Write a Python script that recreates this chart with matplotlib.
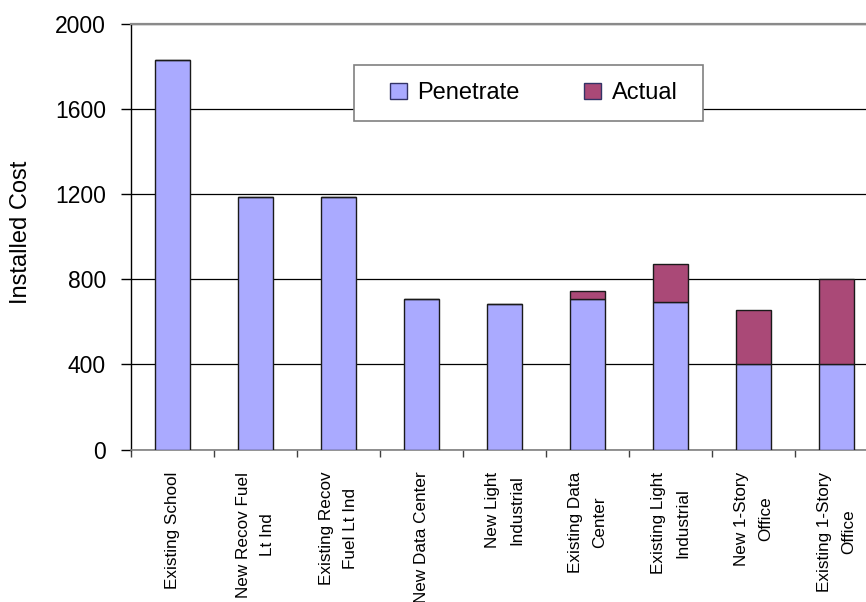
import matplotlib
matplotlib.use("Agg")
import matplotlib.pyplot as plt
from matplotlib.patches import Rectangle
import numpy as np

categories = [
    "Existing School",
    "New Recov Fuel\nLt Ind",
    "Existing Recov\nFuel Lt Ind",
    "New Data Center",
    "New Light\nIndustrial",
    "Existing Data\nCenter",
    "Existing Light\nIndustrial",
    "New 1-Story\nOffice",
    "Existing 1-Story\nOffice",
]
penetrate = [1830, 1190, 1190, 710, 685, 710, 693, 400, 400]
actual = [0, 0, 0, 0, 0, 35, 180, 257, 400]
y_ticks = [0, 400, 800, 1200, 1600, 2000]

plt.rcParams["font.family"] = ["Liberation Sans", "DejaVu Sans"]

fig = plt.figure(figsize=(8.66, 6.02), dpi=100)
# the plot area runs slightly past the right edge of the canvas
ax = fig.add_axes([131 / 866, 0.2533, 747 / 866, 0.7063])

x = np.arange(len(categories))
w = 0.42
pen_color = "#AAAAFF"
act_color = "#AA4977"
ax.bar(x, penetrate, w, color=pen_color, edgecolor="#1a1a1a", linewidth=1.0,
       label="Penetrate", zorder=3)
ax.bar(x, actual, w, bottom=penetrate, color=act_color, edgecolor="#1a1a1a",
       linewidth=1.0, label="Actual", zorder=3)

ax.set_xlim(-0.5, len(categories) - 0.5)
ax.set_ylim(0, 2000)
ax.set_yticks(y_ticks)
ax.set_yticklabels([str(v) for v in y_ticks], fontsize=16.5)
ax.tick_params(axis="y", direction="out", length=7, width=1, color="black", pad=11)

ax.set_xticks(x)
ax.set_xticklabels(categories, rotation=90, fontsize=12.3, ha="center", va="top",
                   multialignment="center", linespacing=1.75)
ax.tick_params(axis="x", which="major", length=0, pad=16)
ax.set_xticks(np.arange(len(categories) + 1) - 0.5, minor=True)
ax.tick_params(axis="x", which="minor", direction="out", length=5, width=1,
               color="#404040")

ax.set_axisbelow(True)
ax.yaxis.grid(True, color="black", linewidth=0.9)
ax.spines["left"].set_color("black")
ax.spines["left"].set_linewidth(1.0)
ax.spines["bottom"].set_color("#808080")
ax.spines["bottom"].set_linewidth(1.2)
ax.spines["top"].set_color("#8a8a8a")
ax.spines["top"].set_linewidth(1.6)
ax.spines["right"].set_visible(False)

ax.set_ylabel("Installed Cost", fontsize=17)
ax.yaxis.set_label_coords(-0.1325, 0.51)

# legend box drawn as its own rectangle, entries placed inside it
box = Rectangle((0.2985, 0.7726), 0.4672, 0.1314, transform=ax.transAxes,
                facecolor="white", edgecolor="#808080", linewidth=1.2, zorder=4)
ax.add_patch(box)
leg = ax.legend(loc="center left", bbox_to_anchor=((390 - 131) / 747, 0.838),
                ncol=2, fontsize=17, frameon=False,
                handlelength=0.7, handleheight=0.7, handletextpad=0.45,
                columnspacing=2.75, borderpad=0, borderaxespad=0)
leg.set_zorder(5)
for h in leg.legend_handles:
    h.set_edgecolor("#333366")

fig.savefig("out.png", dpi=100)
